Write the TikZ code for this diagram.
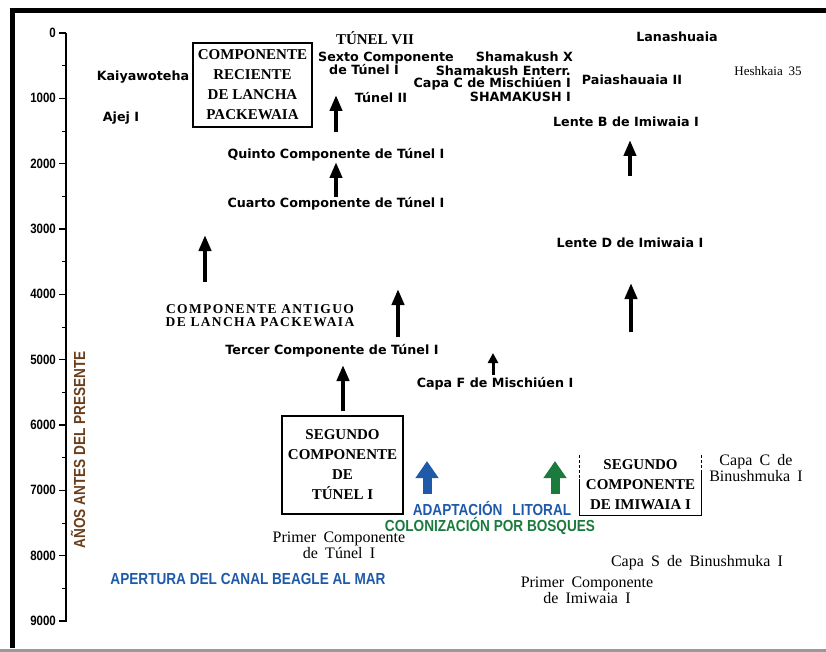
\documentclass[tikz,border=0pt]{standalone}
\usepackage{fontspec}
\setmainfont{Liberation Serif}
\newfontfamily\lblfont{DejaVu Sans}
\newfontfamily\condfont[FakeStretch=0.85]{Liberation Sans}
\newfontfamily\widefont[LetterSpace=10]{Liberation Serif}
\newfontfamily\spacedserif[WordSpace=1.8]{Liberation Serif}
\usetikzlibrary{arrows.meta}

\definecolor{axisbrown}{HTML}{6B3E1B}
\definecolor{beagleblue}{HTML}{1F5AAA}
\definecolor{forestgreen}{HTML}{1A7B3D}

\tikzset{
  site/.style={font=\lblfont\bfseries\fontsize{12.7}{13}\selectfont, inner sep=0pt},
  boxtext/.style={font=\bfseries\fontsize{15}{20}\selectfont, align=center, inner sep=0pt},
  refnote/.style={font=\spacedserif\fontsize{16}{16}\selectfont, align=center, inner sep=0pt},
  event/.style={font=\condfont\bfseries\fontsize{16}{16}\selectfont, inner sep=0pt},
  ticklabel/.style={font=\condfont\bfseries\fontsize{13.5}{13.5}\selectfont, inner sep=0pt, anchor=east},
  blkarrow/.style={line width=4pt, -{Triangle[width=12pt,length=16pt]}},
  colarrow/.style={line width=9pt, -{Triangle[width=22pt,length=17pt]}}
}

\begin{document}
\begin{tikzpicture}[x=1pt,y=-1pt]
  \useasboundingbox (0,0) rectangle (826,652);

  % marco
  \fill (10,8) rectangle (826,13);
  \fill (10,8) rectangle (15,648);
  \fill[black!40] (0,649) rectangle (826,652);

  % eje de tiempo
  \draw[line width=1.5pt] (66,33) -- (66,622);
  \foreach \v/\i in {0/0,1000/1,2000/2,3000/3,4000/4,5000/5,6000/6,7000/7,8000/8,9000/9} {
    \draw[line width=1.2pt] (59,33+65.33*\i) -- (66,33+65.33*\i);
    \node[ticklabel] at (56,33+65.33*\i) {\v};
  }
  \foreach \i in {0,1,...,8} {
    \draw[line width=1pt] (62,33+65.33*\i+32.7) -- (66,33+65.33*\i+32.7);
  }
  \node[event, text=axisbrown, rotate=90] (eje) at (78,450) {AÑOS ANTES DEL PRESENTE};

  % sitios arriba
  \node[site] (kaiya) at (143,77) {Kaiyawoteha};
  \node[site] (ajej) at (121,118) {Ajej I};
  \node[boxtext, draw, line width=1.2pt, minimum width=119pt, minimum height=84pt] (reciente) at (252.5,85)
    {COMPONENTE\\RECIENTE\\DE LANCHA\\PACKEWAIA};
  \node[font=\bfseries\fontsize{15}{15}\selectfont, inner sep=0pt] (tunelvii) at (375,38) {TÚNEL VII};
  \node[site, align=left] (sexto) at (386,63) {Sexto Componente\\\hspace{11pt}de Túnel I};
  \node[site] (tunelii) at (381,98) {Túnel II};
  \node[site, anchor=east] (shamx) at (573,57) {Shamakush X};
  \node[site, anchor=east] (shamen) at (571,71) {Shamakush Enterr.};
  \node[site, anchor=east] (capac) at (571,84) {Capa C de Mischiúen I};
  \node[site, anchor=east] (shami) at (571,97) {SHAMAKUSH I};
  \node[site] (lana) at (677,37) {Lanashuaia};
  \node[site] (paia) at (632,80) {Paiashauaia II};
  \node[refnote, font=\spacedserif\fontsize{13}{13}\selectfont] (hesh) at (768,71) {Heshkaia 35};
  \node[site] (lenteb) at (626,122) {Lente B de Imiwaia I};

  % componentes de tunel I
  \node[site] (quinto) at (336,155) {Quinto Componente de Túnel I};
  \node[site] (cuarto) at (336,204) {Cuarto Componente de Túnel I};
  \node[site] (lented) at (630,243) {Lente D de Imiwaia I};
  \node[font=\widefont\bfseries\fontsize{13.5}{13}\selectfont, align=center, inner sep=0pt] (antiguo) at (260,316)
    {COMPONENTE ANTIGUO\\DE LANCHA PACKEWAIA};
  \node[site] (tercer) at (332,351) {Tercer Componente de Túnel I};
  \node[site] (capaf) at (495,384) {Capa F de Mischiúen I};
  \node[boxtext, draw, line width=1.2pt, minimum width=121pt, minimum height=98pt] (segtunel) at (342.5,465)
    {SEGUNDO\\COMPONENTE\\DE\\TÚNEL I};

  % flechas negras
  \foreach \x/\ya/\yb in {336/132/95, 630/176/140, 336/197/162, 205/282/235, 631/332/283, 398/337/289, 343/411/365} {
    \draw[blkarrow] (\x,\ya) -- (\x,\yb);
  }
  \draw[line width=3pt, -{Triangle[width=10pt,length=10pt]}] (493,375) -- (493,353);

  % flechas de color
  \draw[colarrow, beagleblue] (427,494) -- (427,461);
  \draw[colarrow, forestgreen] (555,494) -- (555,461);
  \node[event, text=beagleblue] (adapt) at (492,508) {ADAPTACIÓN\hspace{10pt}LITORAL};
  \node[event, text=forestgreen] (bosques) at (490,526) {COLONIZACIÓN POR BOSQUES};
  \node[event, text=beagleblue] (beagle) at (248,579) {APERTURA DEL CANAL BEAGLE AL MAR};

  % segundo componente de Imiwaia I
  \node[boxtext, minimum width=121pt, minimum height=60pt] (segimi) at (640.5,485)
    {SEGUNDO\\COMPONENTE\\DE IMIWAIA I};
  \draw[line width=1pt, dash pattern=on 3pt off 2pt] (segimi.north west) -- ([yshift=-24pt]segimi.north west);
  \draw[line width=1pt, dash pattern=on 3pt off 2pt] (segimi.north east) -- ([yshift=-16pt]segimi.north east);
  \draw[line width=1.2pt] ([yshift=-24pt]segimi.north west) -- (segimi.south west) -- (segimi.south east)
    -- ([yshift=-16pt]segimi.north east);
  \node[refnote] (capacbin) at (756,468) {Capa C de\\Binushmuka I};

  % abajo
  \node[refnote] (primertunel) at (339,545) {Primer Componente\\de Túnel I};
  \node[refnote] (capas) at (697,563) {Capa S de Binushmuka I};
  \node[refnote] (primerimi) at (587,590) {Primer Componente\\de Imiwaia I};
\end{tikzpicture}
\end{document}
